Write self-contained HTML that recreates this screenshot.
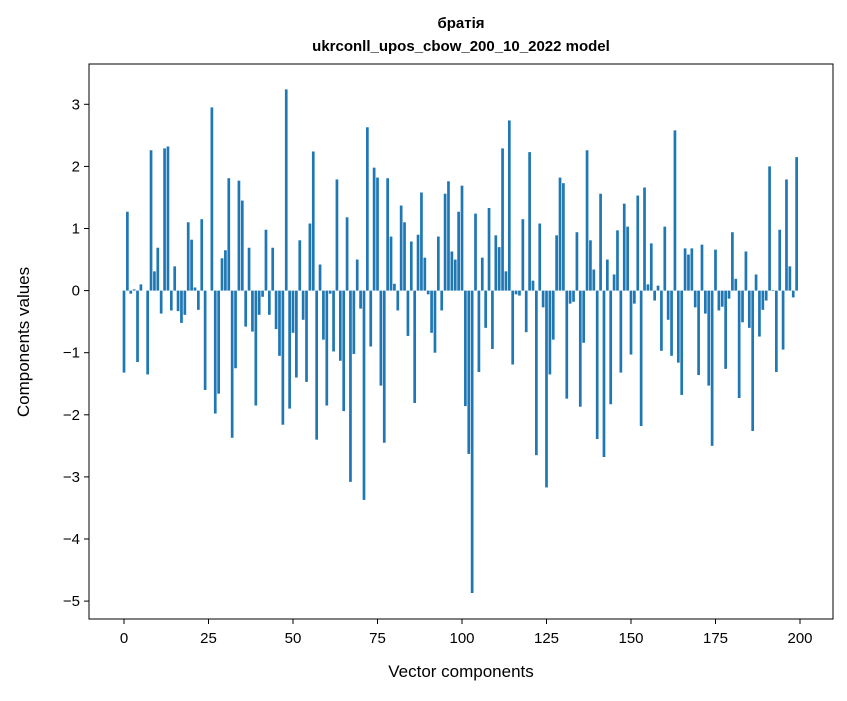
<!DOCTYPE html>
<html><head><meta charset="utf-8"><style>
body{margin:0;background:#fff;}
svg text{font-family:"Liberation Sans","DejaVu Sans",sans-serif;fill:#000;}
</style></head><body>
<svg id="chart" width="847" height="696" xmlns="http://www.w3.org/2000/svg">
<rect width="847" height="696" fill="#fff"/>
<text x="461" y="28" text-anchor="middle" font-size="15" font-weight="bold">братія</text>
<text x="461" y="51" text-anchor="middle" font-size="15" font-weight="bold">ukrconll_upos_cbow_200_10_2022 model</text>
<g id="bars"></g>
<g id="xticks"></g>
<g id="yticks"></g>
<rect x="89" y="64" width="744" height="555" fill="none" stroke="#000" stroke-width="1"/>
<text x="461" y="677" text-anchor="middle" font-size="17">Vector components</text>
<text transform="translate(29,342) rotate(-90)" text-anchor="middle" font-size="17">Components values</text>
</svg>
<script>
const values = [-1.32,1.27,-0.05,0.02,-1.15,0.1,0,-1.35,2.26,0.31,0.69,-0.37,2.29,2.32,-0.32,0.39,-0.33,-0.52,-0.39,1.1,0.82,0.05,-0.31,1.15,-1.6,
0,2.95,-1.98,-1.66,0.52,0.65,1.81,-2.37,-1.25,1.77,1.45,-0.58,0.69,-0.66,-1.85,-0.39,-0.1,0.98,-0.39,0.69,-0.62,-1.05,-2.16,3.24,-1.9,
-0.68,-1.4,0.81,-0.47,-1.47,1.08,2.24,-2.4,0.42,-0.79,-1.85,-0.05,-0.98,1.79,-1.13,-1.94,1.18,-3.08,-1.02,0.5,-0.29,-3.37,2.63,-0.9,1.98,
1.82,-1.53,-2.45,1.81,0.87,0.11,-0.32,1.37,1.1,-0.73,0.79,-1.81,0.9,1.58,0.53,-0.06,-0.68,-1.0,0.87,-0.32,1.56,1.76,0.63,0.5,1.27,
1.69,-1.86,-2.63,-4.87,1.24,-1.31,0.53,-0.6,1.33,-0.94,0.89,0.7,2.29,0.31,2.74,-1.19,-0.06,-0.08,1.15,-0.67,2.23,0.16,-2.65,1.08,-0.27,
-3.17,-1.35,-0.79,0.89,1.82,1.73,-1.74,-0.21,-0.18,0.94,-1.87,-0.84,2.26,0.81,0.34,-2.39,1.56,-2.68,0.5,-1.83,0.26,0.97,-1.32,1.4,1.03,
-1.03,-0.21,1.53,-2.18,1.66,0.1,0.76,-0.16,0.08,-0.97,1.03,-0.47,-1.05,2.58,-1.16,-1.68,0.68,0.58,0.68,-0.27,-1.36,0.74,-0.37,-1.53,-2.5,
0.66,-0.32,-0.26,-1.26,-0.13,0.94,0.19,-1.73,-0.51,0.63,-0.6,-2.26,0.26,-0.74,-0.31,-0.16,2.0,0.01,-1.31,0.98,-0.95,1.79,0.39,-0.11,2.15];
const xTickLabels = [0,25,50,75,100,125,150,175,200];
const yTickLabels = [-5,-4,-3,-2,-1,0,1,2,3];
const NS="http://www.w3.org/2000/svg";
function xs(i){return 124+3.38*i;}
function ys(v){return 290.6-62.1*v;}
const bars=document.getElementById('bars');
values.forEach((v,i)=>{
  const r=document.createElementNS(NS,'rect');
  const y0=ys(0),y1=ys(v);
  r.setAttribute('x',xs(i)-1.35);
  r.setAttribute('width',2.7);
  r.setAttribute('y',Math.min(y0,y1));
  r.setAttribute('height',Math.abs(y1-y0));
  r.setAttribute('fill','#1f77b4');
  
  
  bars.appendChild(r);
});
const xg=document.getElementById('xticks');
xTickLabels.forEach(t=>{
  const l=document.createElementNS(NS,'line');
  l.setAttribute('x1',xs(t));l.setAttribute('x2',xs(t));
  l.setAttribute('y1',619);l.setAttribute('y2',624);
  l.setAttribute('stroke','#000');
  
  
  xg.appendChild(l);
  const tx=document.createElementNS(NS,'text');
  tx.setAttribute('x',xs(t));tx.setAttribute('y',643);
  tx.setAttribute('text-anchor','middle');tx.setAttribute('font-size','15');
  tx.textContent=t;
  
  
  xg.appendChild(tx);
});
const yg=document.getElementById('yticks');
yTickLabels.forEach(t=>{
  const l=document.createElementNS(NS,'line');
  l.setAttribute('x1',84);l.setAttribute('x2',89);
  l.setAttribute('y1',ys(t));l.setAttribute('y2',ys(t));
  l.setAttribute('stroke','#000');
  
  
  yg.appendChild(l);
  const tx=document.createElementNS(NS,'text');
  tx.setAttribute('x',80);tx.setAttribute('y',ys(t)+5);
  tx.setAttribute('text-anchor','end');tx.setAttribute('font-size','15');
  tx.textContent=t<0?'\u2212'+Math.abs(t):String(t);
  
  
  yg.appendChild(tx);
});
</script>
</body></html>
